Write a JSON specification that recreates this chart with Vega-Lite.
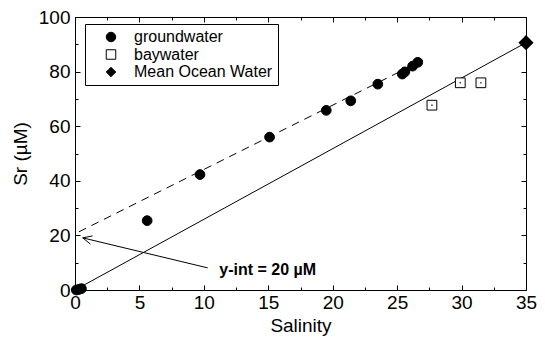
{
  "$schema": "https://vega.github.io/schema/vega-lite/v6.json",
  "width": 451,
  "height": 273,
  "autosize": {"type": "none"},
  "padding": {"left": 75, "top": 17, "right": 19, "bottom": 57},
  "background": "white",
  "config": {
    "view": {"stroke": "black", "strokeWidth": 1},
    "font": "Liberation Sans",
    "axis": {"grid": false, "domain": false, "tickColor": "black", "labelColor": "black", "titleColor": "black", "labelFont": "Liberation Sans", "titleFont": "Liberation Sans", "labelFontSize": 19, "titleFontSize": 19, "titleFontWeight": "normal", "labelFlush": false},
    "legend": {"strokeColor": "black", "fillColor": "white", "padding": 5, "labelFont": "Liberation Sans", "labelFontSize": 16, "labelColor": "black", "symbolSize": 90, "symbolStrokeColor": "black", "symbolStrokeWidth": 1, "rowPadding": 1.5, "symbolOffset": 13, "labelOffset": 15, "symbolFillColor": "white"}
  },
  "datasets": {
    "pts": [
      {"x": 0.1, "y": 0.0, "type": "groundwater"},
      {"x": 0.3, "y": 0.2, "type": "groundwater"},
      {"x": 0.5, "y": 0.5, "type": "groundwater"},
      {"x": 5.6, "y": 25.4, "type": "groundwater"},
      {"x": 9.7, "y": 42.3, "type": "groundwater"},
      {"x": 15.1, "y": 56.0, "type": "groundwater"},
      {"x": 19.5, "y": 65.8, "type": "groundwater"},
      {"x": 21.4, "y": 69.3, "type": "groundwater"},
      {"x": 23.5, "y": 75.4, "type": "groundwater"},
      {"x": 25.4, "y": 79.1, "type": "groundwater"},
      {"x": 25.6, "y": 79.9, "type": "groundwater"},
      {"x": 26.2, "y": 82.0, "type": "groundwater"},
      {"x": 26.6, "y": 83.4, "type": "groundwater"},
      {"x": 27.7, "y": 67.7, "type": "baywater"},
      {"x": 29.9, "y": 75.9, "type": "baywater"},
      {"x": 31.5, "y": 75.9, "type": "baywater"},
      {"x": 35.0, "y": 90.6, "type": "Mean Ocean Water"}
    ],
    "solid": [{"x": 0, "y": 0}, {"x": 35, "y": 90.6}],
    "dashed": [{"x": 0.3, "y": 21.3}, {"x": 27.0, "y": 84.2}],
    "arrow": [
      {"x": 10.3, "y": 8.1, "x2": 0.6, "y2": 19.1},
      {"x": 0.6, "y": 19.1, "x2": 1.2, "y2": 16.8},
      {"x": 0.6, "y": 19.1, "x2": 1.36, "y2": 19.8}
    ],
    "note": [{"x": 11.2, "y": 7.3, "label": "y-int = 20 µM"}]
  },
  "resolve": {"axis": {"x": "independent", "y": "independent"}},
  "layer": [
    {
      "data": {"name": "solid"},
      "mark": {"type": "line", "color": "black", "strokeWidth": 1},
      "encoding": {
        "x": {"field": "x", "type": "quantitative", "scale": {"domain": [0, 35], "nice": false, "zero": false},
          "axis": {"orient": "bottom", "title": "Salinity", "values": [0, 5, 10, 15, 20, 25, 30, 35],
            "tickSize": 5, "offset": -5, "labelPadding": 3, "titlePadding": 4}},
        "y": {"field": "y", "type": "quantitative", "scale": {"domain": [0, 100], "nice": false},
          "axis": {"orient": "left", "title": "Sr (µM)", "values": [0, 20, 40, 60, 80, 100],
            "tickSize": 5, "offset": -5, "labelPadding": 5, "titlePadding": 8}}
      }
    },
    {
      "data": {"name": "dashed"},
      "mark": {"type": "line", "color": "black", "strokeWidth": 1, "strokeDash": [8, 6]},
      "encoding": {
        "x": {"field": "x", "type": "quantitative",
          "axis": {"orient": "top", "title": null, "labels": false, "values": [0, 5, 10, 15, 20, 25, 30, 35], "tickSize": 5, "offset": -5}},
        "y": {"field": "y", "type": "quantitative",
          "axis": {"orient": "right", "title": null, "labels": false, "values": [0, 20, 40, 60, 80, 100], "tickSize": 5, "offset": -5}}
      }
    },
    {
      "data": {"name": "arrow"},
      "mark": {"type": "rule", "color": "black", "strokeWidth": 1},
      "encoding": {
        "x": {"field": "x", "type": "quantitative",
          "axis": {"orient": "bottom", "title": null, "labels": false, "values": [2.5, 7.5, 12.5, 17.5, 22.5, 27.5, 32.5], "tickSize": 3, "offset": -3}},
        "y": {"field": "y", "type": "quantitative",
          "axis": {"orient": "left", "title": null, "labels": false, "values": [10, 30, 50, 70, 90], "tickSize": 3, "offset": -3}},
        "x2": {"field": "x2"},
        "y2": {"field": "y2"}
      }
    },
    {
      "data": {"name": "note"},
      "mark": {"type": "text", "align": "left", "baseline": "middle", "fontSize": 16, "fontWeight": "bold", "font": "Liberation Sans", "color": "black"},
      "encoding": {
        "x": {"field": "x", "type": "quantitative",
          "axis": {"orient": "top", "title": null, "labels": false, "values": [2.5, 7.5, 12.5, 17.5, 22.5, 27.5, 32.5], "tickSize": 3, "offset": -3}},
        "y": {"field": "y", "type": "quantitative",
          "axis": {"orient": "right", "title": null, "labels": false, "values": [10, 30, 50, 70, 90], "tickSize": 3, "offset": -3}},
        "text": {"field": "label"}
      }
    },
    {
      "data": {"name": "pts"},
      "mark": {"type": "point", "filled": false, "stroke": "black", "strokeWidth": 1, "opacity": 1, "size": 95},
      "encoding": {
        "x": {"field": "x", "type": "quantitative", "axis": null},
        "y": {"field": "y", "type": "quantitative", "axis": null},
        "shape": {"field": "type", "type": "nominal",
          "scale": {"domain": ["groundwater", "baywater", "Mean Ocean Water"], "range": ["circle", "square", "diamond"]},
          "legend": {"title": null, "orient": "none", "legendX": 10, "legendY": 7, "strokeColor": "black"}},
        "fill": {"field": "type", "type": "nominal",
          "scale": {"domain": ["groundwater", "baywater", "Mean Ocean Water"], "range": ["black", "white", "black"]},
          "legend": {"title": null, "orient": "none", "legendX": 10, "legendY": 7, "strokeColor": "black"}}
      }
    },
    {
      "data": {"name": "pts"},
      "transform": [{"filter": "datum.type === 'Mean Ocean Water'"}],
      "mark": {"type": "point", "shape": "diamond", "filled": true, "color": "black", "size": 230, "opacity": 1},
      "encoding": {
        "x": {"field": "x", "type": "quantitative", "axis": null},
        "y": {"field": "y", "type": "quantitative", "axis": null}
      }
    },
    {
      "data": {"name": "pts"},
      "transform": [{"filter": "datum.type === 'baywater'"}],
      "mark": {"type": "square", "color": "#333", "size": 2, "opacity": 1},
      "encoding": {
        "x": {"field": "x", "type": "quantitative", "axis": null},
        "y": {"field": "y", "type": "quantitative", "axis": null}
      }
    }
  ]
}
